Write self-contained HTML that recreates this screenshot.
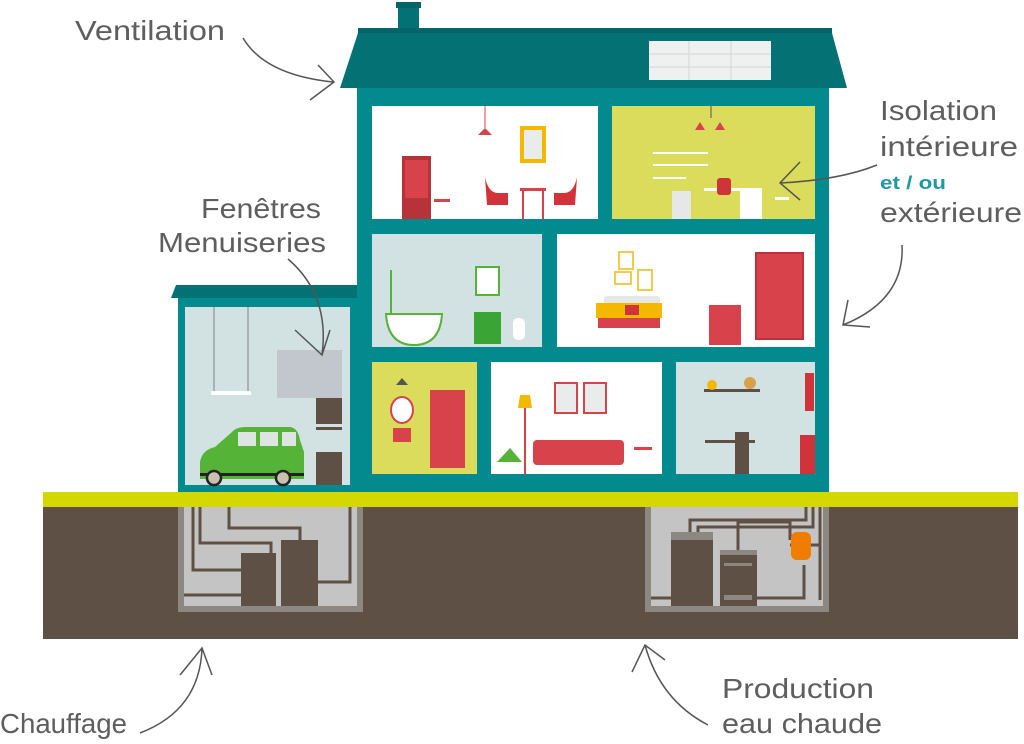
<!DOCTYPE html>
<html><head><meta charset="utf-8"><style>
html,body{margin:0;padding:0;background:#fff;width:1024px;height:744px;overflow:hidden}
svg{display:block}
.t{font-family:"Liberation Sans",sans-serif;font-size:28px;fill:#5e5e5e}
</style></head><body>
<svg width="1024" height="744" viewBox="0 0 1024 744" xmlns="http://www.w3.org/2000/svg">
<!-- ground -->
<rect x="43" y="492" width="975" height="15" fill="#d4d800"/>
<rect x="43" y="507" width="975" height="132" fill="#5f5046"/>
<!-- basements -->
<rect x="178" y="507" width="185" height="105" fill="#8d8781"/>
<rect x="184" y="507" width="173" height="99" fill="#c4c4c4"/>
<rect x="645" y="507" width="184" height="105" fill="#8d8781"/>
<rect x="651" y="507" width="172" height="99" fill="#c4c4c4"/>
<g fill="none" stroke="#5f5046" stroke-width="3">
<path d="M193 507 V570 H243"/>
<path d="M200 507 V543 H271 V555"/>
<path d="M229 507 V528 H300 V542"/>
<path d="M350 507 V582 H316"/>
<path d="M184 595 H243"/>
<path d="M820 507 V545 H790 M813 507 V527 H698 V540 M806 507 V520 H690 V540"/>
<path d="M804 565 V598 H720 M820 545 V600" />
<path d="M790 540 V522 H738 V553"/>
<path d="M651 598 H672"/>
</g>
<rect x="241" y="553" width="35" height="53" fill="#5f5046"/>
<rect x="281" y="540" width="37" height="66" fill="#5f5046"/>
<rect x="671" y="532" width="42" height="74" fill="#5f5046"/>
<rect x="671" y="532" width="42" height="8" fill="#8d8781"/>
<rect x="720" y="550" width="37" height="56" fill="#5f5046"/>
<rect x="720" y="550" width="37" height="5" fill="#8d8781"/>
<rect x="724" y="563" width="28" height="3" fill="#8d8781"/>
<rect x="724" y="595" width="28" height="5" fill="#8d8781"/>
<rect x="791" y="532" width="20" height="28" rx="6" fill="#f07d00"/>
<!-- annex -->
<rect x="178" y="298" width="180" height="194" fill="#028a8f"/>
<polygon points="176,285 358,285 358,298 171,298" fill="#047275"/>
<rect x="185" y="307" width="165" height="178" fill="#d2e2e2"/>
<line x1="214" y1="307" x2="214" y2="393" stroke="#a9b3b3" stroke-width="2"/>
<line x1="248" y1="307" x2="248" y2="393" stroke="#a9b3b3" stroke-width="2"/>
<rect x="211" y="391" width="40" height="4" fill="#fff"/>
<rect x="277" y="350" width="65" height="48" fill="#c1c7cc"/>
<rect x="316" y="398" width="26" height="26" fill="#5f5046"/>
<rect x="316" y="452" width="26" height="33" fill="#5f5046"/>
<rect x="316" y="427" width="26" height="3" fill="#5f5046"/>
<!-- car -->
<path d="M200 462 Q202 450 215 447 L232 432 Q236 427 246 427 L290 427 Q298 428 300 440 L304 452 L304 479 L200 479 Z" fill="#55b338"/>
<rect x="238" y="432" width="18" height="14" fill="#dde5e2"/>
<rect x="260" y="432" width="18" height="14" fill="#dde5e2"/>
<rect x="282" y="432" width="14" height="14" fill="#dde5e2"/>
<rect x="200" y="473" width="104" height="3" fill="#222"/>
<circle cx="214" cy="478" r="7" fill="#c9c0b0" stroke="#222" stroke-width="2.5"/>
<circle cx="283" cy="478" r="7" fill="#c9c0b0" stroke="#222" stroke-width="2.5"/>
<!-- main house -->
<rect x="357" y="88" width="472" height="404" fill="#028a8f"/>
<rect x="398" y="2" width="21" height="30" fill="#047275"/>
<rect x="396" y="2" width="25" height="6" fill="#036469"/>
<rect x="358" y="28" width="474" height="6" fill="#036469"/>
<polygon points="358,33 832,33 847,88 340,88" fill="#047275"/>
<rect x="649" y="41" width="122" height="39" fill="#eef1ef"/>
<g stroke="#d0d8d5" stroke-width="1">
<line x1="689" y1="41" x2="689" y2="80"/><line x1="731" y1="41" x2="731" y2="80"/>
<line x1="649" y1="54" x2="771" y2="54"/><line x1="649" y1="67" x2="771" y2="67"/>
</g>
<!-- rooms -->
<rect x="372" y="106" width="226" height="113" fill="#fff"/>
<rect x="612" y="106" width="203" height="113" fill="#dcdc5c"/>
<rect x="372" y="234" width="170" height="113" fill="#d2e2e2"/>
<rect x="557" y="234" width="258" height="113" fill="#fff"/>
<rect x="372" y="362" width="105" height="112" fill="#dcdc5c"/>
<rect x="491" y="362" width="171" height="112" fill="#fff"/>
<rect x="676" y="362" width="139" height="112" fill="#d2e2e2"/>
<!-- top-left furniture -->
<rect x="402" y="156" width="29" height="63" fill="#b8323a"/>
<rect x="405" y="160" width="23" height="38" fill="#d8434b"/>
<line x1="485" y1="106" x2="485" y2="128" stroke="#d8434b"/>
<polygon points="478,135 492,135 485,128" fill="#d8434b"/>
<rect x="520" y="126" width="26" height="37" fill="#f5b800"/>
<rect x="524" y="130" width="18" height="29" fill="#e8ecea"/>
<path d="M485 177 Q488 192 497 193 L508 193 L508 205 L487 205 Z" fill="#d0333a"/>
<path d="M577 177 Q574 192 565 193 L554 193 L554 205 L575 205 Z" fill="#d0333a"/>
<rect x="520" y="188" width="26" height="3" fill="#d8434b"/>
<line x1="523" y1="190" x2="523" y2="219" stroke="#d8434b" stroke-width="2"/>
<line x1="543" y1="190" x2="543" y2="219" stroke="#d8434b" stroke-width="2"/>
<rect x="434" y="199" width="16" height="3" fill="#d8434b"/>
<!-- top-right furniture -->
<polygon points="695,130 705,130 700,122" fill="#d8434b"/>
<polygon points="715,130 725,130 720,122" fill="#d8434b"/>
<line x1="711" y1="106" x2="711" y2="118" stroke="#555"/>
<rect x="653" y="152" width="55" height="2" fill="#fff"/><rect x="653" y="164" width="55" height="2" fill="#fff"/><rect x="653" y="177" width="33" height="2" fill="#fff"/>
<rect x="672" y="191" width="19" height="28" fill="#e5e8e6"/>
<rect x="704" y="188" width="58" height="3" fill="#fff"/>
<rect x="740" y="188" width="22" height="31" fill="#fff"/>
<rect x="717" y="178" width="14" height="17" rx="3" fill="#d0333a"/>
<rect x="775" y="197" width="14" height="3" fill="#fff"/>
<!-- mid-left -->
<path d="M386 314 H442 Q440 345 414 345 Q388 345 386 314Z" fill="#fff" stroke="#55b338" stroke-width="2"/>
<line x1="391" y1="314" x2="391" y2="270" stroke="#55b338" stroke-width="2"/>
<rect x="476" y="267" width="23" height="28" fill="#fff" stroke="#55b338" stroke-width="2"/>
<rect x="474" y="312" width="27" height="32" fill="#3aa535"/>
<rect x="513" y="318" width="12" height="22" rx="5" fill="#fff"/>
<!-- mid-right bedroom -->
<rect x="604" y="296" width="56" height="10" rx="3" fill="#e5e8e6"/>
<rect x="596" y="303" width="66" height="15" fill="#f5b800"/>
<rect x="598" y="318" width="62" height="10" fill="#d8434b"/>
<rect x="625" y="305" width="14" height="10" fill="#d0333a"/>
<rect x="709" y="305" width="32" height="40" fill="#d8434b"/>
<rect x="756" y="253" width="47" height="86" fill="#d8434b" stroke="#c0303a" stroke-width="2"/>
<rect x="619" y="252" width="14" height="17" fill="none" stroke="#f5c94d" stroke-width="2"/>
<rect x="615" y="272" width="16" height="12" fill="none" stroke="#f5c94d" stroke-width="2"/>
<rect x="638" y="270" width="14" height="20" fill="none" stroke="#f5c94d" stroke-width="2"/>
<!-- bottom-left -->
<rect x="430" y="390" width="35" height="78" fill="#d8434b"/>
<ellipse cx="402" cy="410" rx="11" ry="13" fill="#fff" stroke="#d8434b" stroke-width="2"/>
<rect x="393" y="428" width="18" height="14" fill="#d8434b"/>
<polygon points="396,385 408,385 402,378" fill="#555"/>
<!-- bottom middle -->
<rect x="533" y="440" width="91" height="25" rx="4" fill="#d8434b"/>
<rect x="555" y="383" width="22" height="30" fill="#e8ecea" stroke="#d8434b" stroke-width="2"/>
<rect x="584" y="383" width="22" height="30" fill="#e8ecea" stroke="#d8434b" stroke-width="2"/>
<polygon points="518,408 532,408 530,395 520,395" fill="#f5b800"/>
<line x1="525" y1="408" x2="525" y2="474" stroke="#d8434b" stroke-width="2"/>
<path d="M497 462 L510 448 L522 462Z" fill="#55b338"/>
<rect x="634" y="447" width="18" height="3" fill="#d8434b"/>
<!-- bottom right -->
<rect x="704" y="389" width="56" height="3" fill="#5f5046"/>
<circle cx="712" cy="385" r="5" fill="#f5b800"/><circle cx="750" cy="383" r="6" fill="#d9a24a"/>
<rect x="805" y="373" width="9" height="38" fill="#d0333a"/>
<rect x="800" y="435" width="15" height="39" fill="#d0333a"/>
<rect x="705" y="440" width="50" height="3" fill="#5f5046"/>
<rect x="735" y="432" width="14" height="42" fill="#5f5046"/>
<!-- arrows -->
<g fill="none" stroke="#555" stroke-width="1.5">
<path d="M243 38 Q265 75 333 82 M318 65 L334 82 L310 100"/>
<path d="M288 259 Q330 295 322 355 M295 330 L322 355 L330 330"/>
<path d="M877 165 Q840 180 780 183 M800 162 L780 183 L800 200"/>
<path d="M902 245 Q905 300 843 325 M848 300 L843 325 L870 327"/>
<path d="M140 733 Q200 710 202 648 M180 675 L202 648 L212 675"/>
<path d="M708 725 Q660 700 645 645 M632 672 L645 645 L665 660"/>
</g>
<!-- labels -->
<text class="t" x="75" y="40" textLength="150" lengthAdjust="spacingAndGlyphs">Ventilation</text>
<text class="t" x="880" y="120" textLength="117" lengthAdjust="spacingAndGlyphs">Isolation</text>
<text class="t" x="880" y="156" textLength="138" lengthAdjust="spacingAndGlyphs">intérieure</text>
<text x="880" y="189" font-family="Liberation Sans,sans-serif" font-weight="bold" font-size="18" fill="#1e9aa3" textLength="66" lengthAdjust="spacingAndGlyphs">et / ou</text>
<text class="t" x="880" y="222" textLength="142" lengthAdjust="spacingAndGlyphs">extérieure</text>
<text class="t" x="201" y="218" textLength="120" lengthAdjust="spacingAndGlyphs">Fenêtres</text>
<text class="t" x="158" y="252" textLength="168" lengthAdjust="spacingAndGlyphs">Menuiseries</text>
<text class="t" x="0" y="733" textLength="127" lengthAdjust="spacingAndGlyphs">Chauffage</text>
<text class="t" x="722" y="698" textLength="152" lengthAdjust="spacingAndGlyphs">Production</text>
<text class="t" x="722" y="733" textLength="160" lengthAdjust="spacingAndGlyphs">eau chaude</text>
</svg>
</body></html>
